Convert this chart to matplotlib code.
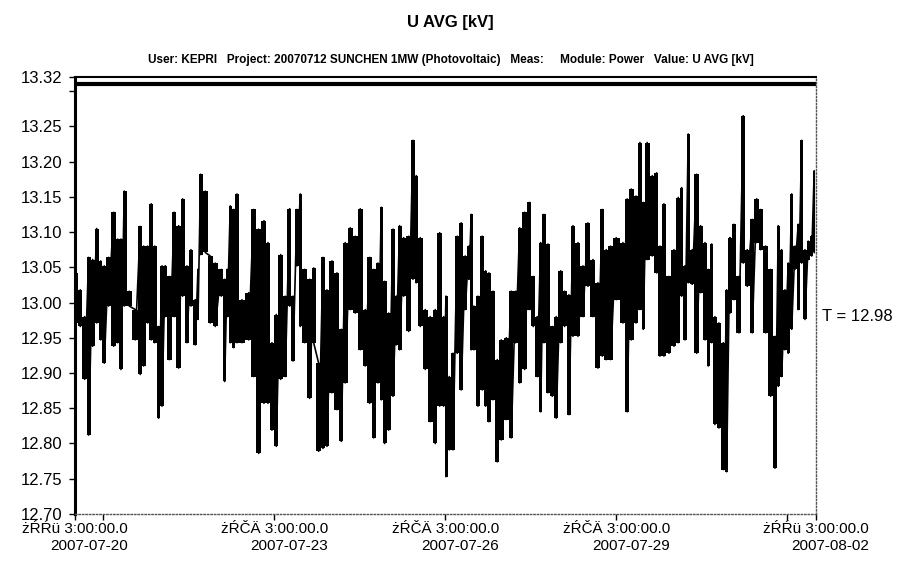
import datetime as dt
import matplotlib
matplotlib.use("Agg")
from matplotlib import pyplot as plt
import matplotlib.dates as mdates
import numpy as np

# days after 2007-07-20 03:00, with the high / low reading of each short stretch
t_day = [0.01, 0.093, 0.170, 0.240, 0.311, 0.381, 0.451, 0.514, 0.591, 0.679,
         0.749, 0.807, 0.865, 0.953, 1.058, 1.146, 1.205, 1.275, 1.339, 1.398,
         1.468, 1.526, 1.584, 1.654, 1.742, 1.819, 1.889, 1.965, 2.035, 2.111,
         2.158, 2.205, 2.286, 2.374, 2.461, 2.567, 2.626, 2.672, 2.725, 2.784,
         2.842, 2.930, 3.047, 3.135, 3.223,
         3.316, 3.386, 3.456, 3.532, 3.609, 3.689, 3.767, 3.825, 3.895, 3.953,
         4.030, 4.118, 4.188, 4.275, 4.351, 4.421, 4.509, 4.596, 4.672, 4.742,
         4.830, 4.918, 5.005, 5.093, 5.170, 5.240, 5.316, 5.374, 5.433, 5.504,
         5.579, 5.637, 5.696, 5.767, 5.854, 5.930, 5.988, 6.058, 6.146, 6.233,
         6.321, 6.398, 6.468,
         6.509, 6.567, 6.632, 6.707, 6.777, 6.847, 6.912, 6.953, 7.000, 7.070,
         7.146, 7.205, 7.263, 7.333, 7.409, 7.479, 7.567, 7.654, 7.732, 7.802,
         7.889, 7.970, 8.040, 8.111, 8.170, 8.228, 8.298, 8.374, 8.444, 8.521,
         8.591, 8.667, 8.737, 8.825, 8.912, 9.000, 9.088, 9.175, 9.251, 9.321,
         9.398, 9.496, 9.614, 9.689, 9.760,
         9.842, 9.912, 9.970, 10.040, 10.128, 10.205, 10.263, 10.333, 10.421, 10.509,
         10.584, 10.644, 10.702, 10.760, 10.830, 10.907, 10.977, 11.053, 11.111, 11.170,
         11.228, 11.298, 11.374, 11.433, 11.491, 11.561, 11.649, 11.725, 11.795, 11.882,
         11.960, 12.030, 12.118, 12.205, 12.281, 12.339, 12.398, 12.456, 12.514, 12.574,
         12.632, 12.689, 12.749, 12.807, 12.865, 12.925, 12.970]

u_hi = [13.042, 13.018, 12.980, 13.064, 13.061, 13.105, 13.059, 13.052, 13.064, 13.128,
        13.090, 13.090, 13.158, 13.016, 12.990, 13.108, 13.080, 13.080, 13.140, 13.080,
        12.966, 13.052, 13.052, 13.037, 13.128, 13.109, 13.147, 13.052, 13.075, 13.004,
        13.047, 13.182, 13.158, 13.066, 13.056, 13.047, 13.033, 13.047, 13.137, 13.132,
        13.154, 13.004, 13.014, 13.132, 13.104,
        13.116, 13.085, 12.943, 12.983, 13.068, 13.009, 13.133, 13.009, 13.132, 13.154,
        13.047, 13.033, 13.049, 12.914, 13.064, 13.018, 13.059, 13.042, 12.962, 13.085,
        13.106, 13.094, 13.133, 12.990, 13.064, 13.047, 13.056, 13.135, 13.030, 12.985,
        13.104, 13.009, 13.109, 13.092, 13.094, 13.230, 13.180, 13.092, 12.990, 12.980,
        12.990, 13.099, 12.980,
        13.009, 12.895, 12.928, 13.094, 13.113, 13.066, 13.080, 13.125, 12.995, 13.009,
        13.094, 13.045, 13.042, 13.016, 12.919, 12.947, 12.950, 13.016, 13.016, 13.106,
        13.128, 13.142, 13.037, 12.980, 13.085, 13.125, 13.083, 12.966, 12.980, 13.045,
        13.016, 13.011, 13.109, 13.085, 13.052, 13.113, 13.061, 13.028, 13.132, 13.075,
        13.080, 13.092, 13.085, 13.147, 13.161,
        13.151, 13.227, 13.142, 13.227, 13.180, 13.184, 13.080, 13.140, 13.037, 13.075,
        13.149, 13.163, 13.052, 13.239, 13.075, 13.182, 13.109, 13.085, 13.047, 13.083,
        12.980, 12.971, 12.943, 13.018, 13.092, 13.111, 13.037, 13.265, 13.075, 13.118,
        13.147, 13.132, 13.080, 13.047, 12.952, 13.109, 13.075, 13.018, 13.056, 13.154,
        13.080, 13.111, 13.230, 13.075, 13.087, 13.094, 13.187]

u_lo = [12.971, 12.966, 12.891, 12.812, 12.938, 12.971, 12.947, 12.914, 12.995, 12.938,
        12.943, 12.905, 12.995, 12.995, 12.947, 12.898, 12.910, 12.971, 12.947, 12.943,
        12.836, 12.853, 12.980, 12.919, 12.980, 12.907, 13.009, 12.943, 12.995, 12.940,
        12.976, 13.068, 13.071, 12.971, 12.966, 13.009, 12.888, 12.980, 12.943, 12.936,
        12.943, 12.943, 12.947, 12.895, 12.786,
        12.857, 12.857, 12.819, 12.796, 12.891, 12.895, 12.995, 12.917, 13.052, 12.966,
        12.943, 12.864, 12.943, 12.789, 12.793, 12.796, 12.872, 12.848, 12.803, 12.886,
        12.990, 12.985, 12.933, 12.910, 12.857, 12.808, 12.886, 12.862, 12.800, 12.819,
        12.867, 12.940, 12.933, 13.009, 12.959, 13.033, 13.028, 12.966, 12.905, 12.831,
        12.800, 12.853, 12.853,
        12.753, 12.791, 12.791, 12.928, 12.876, 12.990, 13.033, 12.933, 12.933, 12.853,
        12.876, 12.853, 12.831, 12.862, 12.774, 12.805, 12.834, 12.808, 12.943, 12.886,
        12.905, 12.990, 12.966, 12.895, 12.845, 12.943, 12.872, 12.867, 12.836, 12.943,
        12.966, 12.841, 12.952, 12.952, 12.980, 13.023, 12.980, 12.907, 12.924, 12.919,
        12.919, 13.004, 12.971, 12.845, 12.947,
        12.971, 12.990, 12.962, 13.061, 13.066, 13.042, 12.924, 12.924, 12.928, 12.938,
        12.943, 13.009, 12.947, 13.028, 13.026, 12.928, 13.014, 12.947, 12.910, 12.943,
        12.827, 12.822, 12.763, 12.760, 12.985, 13.004, 12.957, 13.056, 13.023, 12.957,
        13.085, 13.075, 12.957, 12.867, 12.765, 12.881, 12.895, 12.933, 12.928, 12.962,
        13.047, 12.990, 13.056, 12.976, 13.061, 13.066, 13.071]

y_ticks = [13.32, 13.25, 13.20, 13.15, 13.10, 13.05, 13.00, 12.95, 12.90, 12.85, 12.80, 12.75, 12.70]
limit_line = 13.31
t_value = 12.98

start = dt.datetime(2007, 7, 20, 3, 0)
end = dt.datetime(2007, 8, 2, 3, 0)
x_ticks = [start, dt.datetime(2007, 7, 23, 15), dt.datetime(2007, 7, 26, 15),
           dt.datetime(2007, 7, 29, 15), end]
x_labels = ["żŔŔü 3:00:00.0\n2007-07-20", "żŔČÄ 3:00:00.0\n2007-07-23",
            "żŔČÄ 3:00:00.0\n2007-07-26", "żŔČÄ 3:00:00.0\n2007-07-29",
            "żŔŔü 3:00:00.0\n2007-08-02"]
x_minor = [dt.datetime(2007, 7, 20, 15), dt.datetime(2007, 8, 1, 15)]

plt.rcParams['font.family'] = ['Liberation Sans Narrow', 'Liberation Sans', 'DejaVu Sans']

fig = plt.figure(figsize=(9.01, 5.84), dpi=100)
ax = fig.add_axes([0.0832, 0.1199, 0.8224, 0.7483])

times = [start + dt.timedelta(days=d) for d in t_day]
# solid band between high and low, plus zigzag through them for the spiky edges
ax.fill_between(times, u_hi, u_lo, step='mid', color='black', lw=0)
zz_t = []
zz_v = []
for tt, h, l in zip(times, u_hi, u_lo):
    zz_t += [tt, tt]
    zz_v += [h, l]
ax.plot(zz_t, zz_v, color='black', lw=1.2)

ax.axhline(limit_line, color='black', lw=3)

ax.set_xlim(start, end)
ax.set_ylim(12.70, 13.32)
ax.set_yticks(y_ticks)
ax.set_yticklabels(['{:.2f}'.format(v) for v in y_ticks], fontsize=12)
ax.set_yticks([13.30], minor=True)
ax.set_xticks(mdates.date2num(x_ticks))
ax.set_xticklabels(x_labels, fontsize=11, multialignment='right')
ax.set_xticks(mdates.date2num(x_minor), minor=True)
ax.tick_params(axis='both', which='both', direction='out', length=4, width=1, color='black')
ax.tick_params(axis='x', pad=2)
ax.tick_params(axis='y', pad=5)

ax.spines['left'].set_linewidth(2.2)
ax.spines['top'].set_linewidth(1.5)
for s in ['bottom', 'right']:
    ax.spines[s].set_linestyle((0, (1, 1.5)))
    ax.spines[s].set_linewidth(1)
    ax.spines[s].set_color('#555555')

ax.text(1.008, t_value, 'T = {:.2f}'.format(t_value), transform=ax.get_yaxis_transform(),
        ha='left', va='center', fontsize=12)

fig.text(0.5, 0.962, 'U AVG [kV]', ha='center', va='center', fontsize=12, fontweight='bold')
fig.text(0.5, 0.897, 'User: KEPRI   Project: 20070712 SUNCHEN 1MW (Photovoltaic)   Meas:     Module: Power   Value: U AVG [kV]',
         ha='center', va='center', fontsize=8.5, fontweight='bold')

fig.savefig('out.png', dpi=100)
